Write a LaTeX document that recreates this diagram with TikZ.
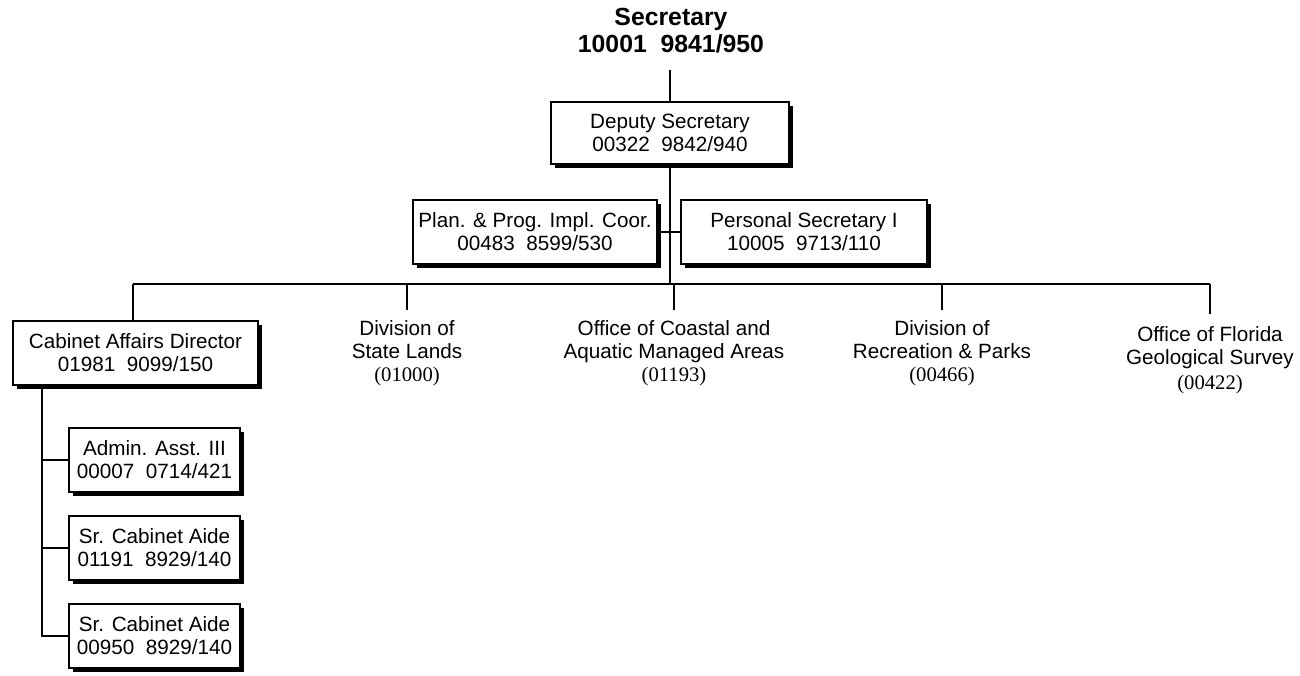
\documentclass[tikz,border=0pt]{standalone}
\usepackage{fontspec}
\setmainfont{Liberation Sans}
\newfontfamily\tnrfont{Liberation Serif}
\usetikzlibrary{shadows}
\tikzset{
  orgbox/.style={draw, line width=1.5pt, fill=white, align=center, inner sep=0pt,
    font=\fontsize{15.5}{17.25}\selectfont,
    drop shadow={shadow xshift=3pt, shadow yshift=-3pt, opacity=1, fill=black}},
  conn/.style={line width=1.5pt},
  divlabel/.style={align=center, inner xsep=0pt, inner ysep=7.5pt, anchor=north,
    font=\fontsize{15.5}{17.25}\selectfont},
  toptitle/.style={align=center, inner xsep=0pt, inner ysep=12pt,
    font=\bfseries\fontsize{18.6}{20.25}\selectfont}
}
\begin{document}
\begin{tikzpicture}[x=0.75pt, y=-0.75pt]
\useasboundingbox (0,0) rectangle (1300,675);

% title
\node[toptitle] (sec) at (671,31) {Secretary\\10001~~9841/950};

% boxes
\node[orgbox, minimum width=238*0.75pt, minimum height=62*0.75pt] (dep) at (670,133) {Deputy Secretary\\00322~~9842/940};
\node[orgbox, minimum width=244*0.75pt, minimum height=64*0.75pt] (plan) at (535,232) {Plan. \& Prog. Impl. Coor.\\00483~~8599/530};
\node[orgbox, minimum width=246*0.75pt, minimum height=64*0.75pt] (pers) at (804,232) {Personal Secretary I\\10005~~9713/110};
\node[orgbox, minimum width=245*0.75pt, minimum height=64*0.75pt] (cab) at (135.5,353) {Cabinet Affairs Director\\01981~~9099/150};
\node[orgbox, minimum width=171*0.75pt, minimum height=64*0.75pt] (adm) at (154.5,460) {Admin. Asst. III\\00007~~0714/421};
\node[orgbox, minimum width=171*0.75pt, minimum height=64*0.75pt] (sr1) at (154.5,547.5) {Sr. Cabinet Aide\\01191~~8929/140};
\node[orgbox, minimum width=171*0.75pt, minimum height=64*0.75pt] (sr2) at (154.5,635.5) {Sr. Cabinet Aide\\00950~~8929/140};

% division labels
\node[divlabel] (dsl) at (407,310) {Division of\\State Lands\\{\tnrfont (01000)}};
\node[divlabel] (oca) at (674,310) {Office of Coastal and\\Aquatic Managed Areas\\{\tnrfont (01193)}};
\node[divlabel] (drp) at (942,310) {Division of\\Recreation \& Parks\\{\tnrfont (00466)}};
\node[divlabel, inner ysep=9pt] (ofg) at (1210,314) {Office of Florida\\Geological Survey\\[2pt]{\tnrfont (00422)}};

% bus coordinates
\coordinate (busL) at (133,284);
\coordinate (busR) at (1210,284);
\coordinate (sub) at (42,0);

% connectors
\draw[conn] (sec.south -| dep.north) -- (dep.north);
\draw[conn] (dep.south) -- (dep.south |- busL);
\draw[conn] (plan.east) -- (pers.west);
\draw[conn] (busL) -- (busR);
\draw[conn] (busL) -- (busL |- cab.north);
\draw[conn] (dsl.north |- busL) -- (dsl.north);
\draw[conn] (oca.north |- busL) -- (oca.north);
\draw[conn] (drp.north |- busL) -- (drp.north);
\draw[conn] (busR) -- (ofg.north);
\draw[conn] (cab.south -| sub) -- (sr2.west -| sub) -- (sr2.west);
\draw[conn] (adm.west -| sub) -- (adm.west);
\draw[conn] (sr1.west -| sub) -- (sr1.west);
\end{tikzpicture}
\end{document}
